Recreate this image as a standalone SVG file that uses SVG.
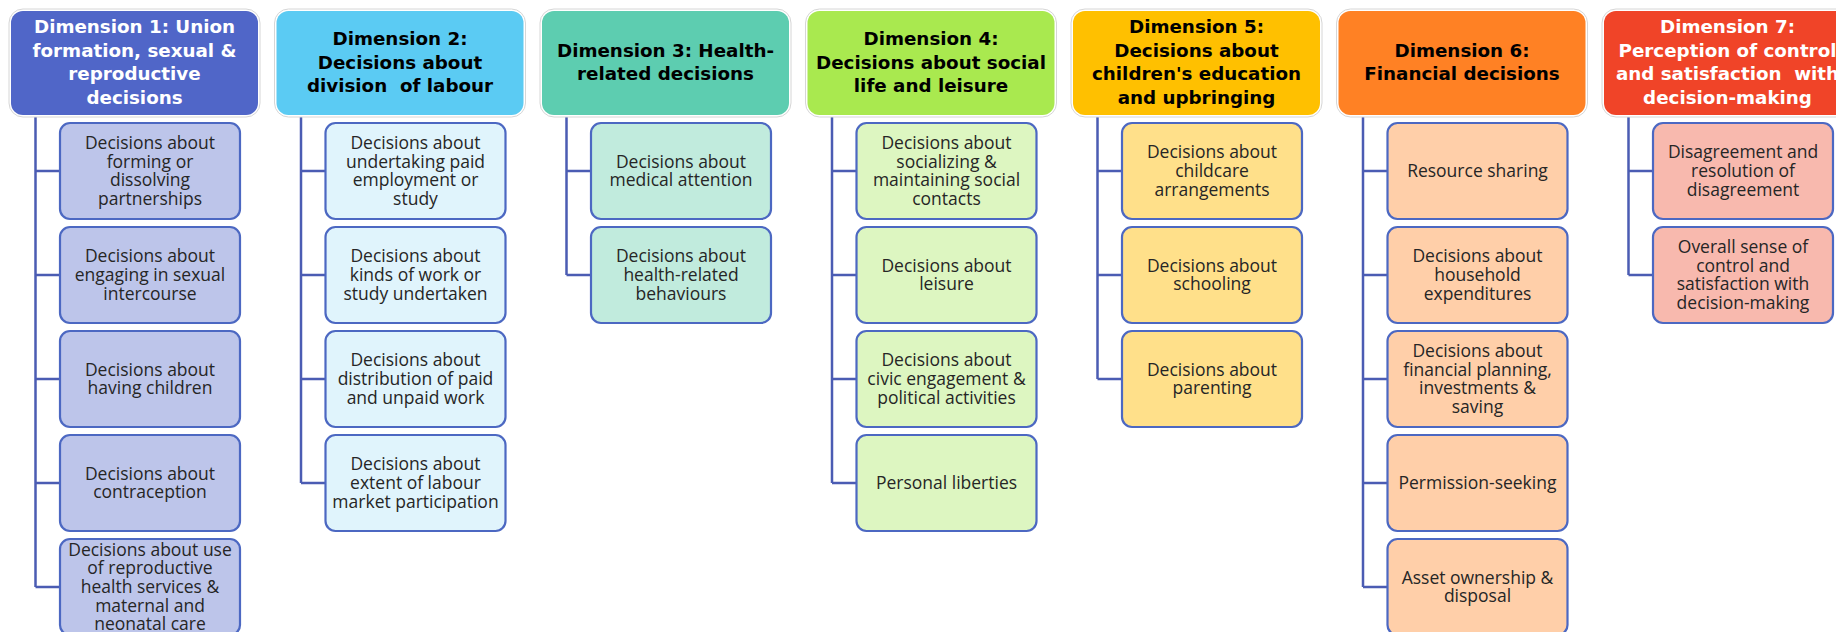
<svg xmlns="http://www.w3.org/2000/svg" width="1836" height="632" viewBox="0 0 1836 632">
<style>
.halo{fill:#ffffff;stroke:#d6d6d6;stroke-width:1}
.hd{stroke:none}
.ht{font-family:"DejaVu Sans",Verdana,sans-serif;font-weight:bold;font-size:18.3px;text-anchor:middle;white-space:pre}
.bx{stroke:#4C68C2;stroke-width:2.2}
.bt{font-family:"Open Sans","Noto Sans",sans-serif;font-size:17.5px;fill:#262626;text-anchor:middle}
.cn{fill:none;stroke:#4B5CB3;stroke-width:2.5}
.c1{fill:#BDC5EA}.c2{fill:#E0F4FC}.c3{fill:#C1EBDD}.c4{fill:#DDF6C1}.c5{fill:#FFE08A}.c6{fill:#FFCFA9}.c7{fill:#F8B9AE}
</style>
<rect width="1836" height="632" fill="#ffffff"/>

<g id="connectors">
<path class="cn" d="M35.5 115V587M35.5 171H60M35.5 275H60M35.5 379H60M35.5 483H60M35.5 587H60"/>
<path class="cn" d="M301 115V483M301 171H325.5M301 275H325.5M301 379H325.5M301 483H325.5"/>
<path class="cn" d="M566.5 115V275M566.5 171H591M566.5 275H591"/>
<path class="cn" d="M832 115V483M832 171H856.5M832 275H856.5M832 379H856.5M832 483H856.5"/>
<path class="cn" d="M1097.5 115V379M1097.5 171H1122M1097.5 275H1122M1097.5 379H1122"/>
<path class="cn" d="M1363 115V587M1363 171H1387.5M1363 275H1387.5M1363 379H1387.5M1363 483H1387.5M1363 587H1387.5"/>
<path class="cn" d="M1628.5 115V275M1628.5 171H1653M1628.5 275H1653"/>
</g>

<!-- Dimension 1 -->
<g id="dim1">
<rect class="halo" x="9" y="9" width="251" height="108" rx="14"/>
<rect class="hd" x="11" y="11" width="247" height="104" rx="12" fill="#5066C8"/>
<text class="ht" fill="#ffffff" x="134.5" y="33.35">Dimension 1: Union<tspan x="134.5" dy="23.5">formation, sexual &amp;</tspan><tspan x="134.5" dy="23.5">reproductive</tspan><tspan x="134.5" dy="23.5">decisions</tspan></text>
</g>
<g id="d1n1"><rect class="bx c1" x="60" y="123" width="180" height="96" rx="10"/>
<text class="bt" x="150" y="148.95">Decisions about<tspan x="150" dy="18.7">forming or</tspan><tspan x="150" dy="18.7">dissolving</tspan><tspan x="150" dy="18.7">partnerships</tspan></text></g>
<g id="d1n2"><rect class="bx c1" x="60" y="227" width="180" height="96" rx="10"/>
<text class="bt" x="150" y="262.3">Decisions about<tspan x="150" dy="18.7">engaging in sexual</tspan><tspan x="150" dy="18.7">intercourse</tspan></text></g>
<g id="d1n3"><rect class="bx c1" x="60" y="331" width="180" height="96" rx="10"/>
<text class="bt" x="150" y="375.65">Decisions about<tspan x="150" dy="18.7">having children</tspan></text></g>
<g id="d1n4"><rect class="bx c1" x="60" y="435" width="180" height="96" rx="10"/>
<text class="bt" x="150" y="479.65">Decisions about<tspan x="150" dy="18.7">contraception</tspan></text></g>
<g id="d1n5"><rect class="bx c1" x="60" y="539" width="180" height="96" rx="10"/>
<text class="bt" x="150" y="555.6">Decisions about use<tspan x="150" dy="18.7">of reproductive</tspan><tspan x="150" dy="18.7">health services &amp;</tspan><tspan x="150" dy="18.7">maternal and</tspan><tspan x="150" dy="18.7">neonatal care</tspan></text></g>

<!-- Dimension 2 -->
<g id="dim2">
<rect class="halo" x="274.5" y="9" width="251" height="108" rx="14"/>
<rect class="hd" x="276.5" y="11" width="247" height="104" rx="12" fill="#5BCBF3"/>
<text class="ht" fill="#000000" x="400" y="45.1">Dimension 2:<tspan x="400" dy="23.5">Decisions about</tspan><tspan x="400" dy="23.5">division  of labour</tspan></text>
</g>
<g id="d2n1"><rect class="bx c2" x="325.5" y="123" width="180" height="96" rx="10"/>
<text class="bt" x="415.5" y="148.95">Decisions about<tspan x="415.5" dy="18.7">undertaking paid</tspan><tspan x="415.5" dy="18.7">employment or</tspan><tspan x="415.5" dy="18.7">study</tspan></text></g>
<g id="d2n2"><rect class="bx c2" x="325.5" y="227" width="180" height="96" rx="10"/>
<text class="bt" x="415.5" y="262.3">Decisions about<tspan x="415.5" dy="18.7">kinds of work or</tspan><tspan x="415.5" dy="18.7">study undertaken</tspan></text></g>
<g id="d2n3"><rect class="bx c2" x="325.5" y="331" width="180" height="96" rx="10"/>
<text class="bt" x="415.5" y="366.3">Decisions about<tspan x="415.5" dy="18.7">distribution of paid</tspan><tspan x="415.5" dy="18.7">and unpaid work</tspan></text></g>
<g id="d2n4"><rect class="bx c2" x="325.5" y="435" width="180" height="96" rx="10"/>
<text class="bt" x="415.5" y="470.3">Decisions about<tspan x="415.5" dy="18.7">extent of labour</tspan><tspan x="415.5" dy="18.7">market participation</tspan></text></g>

<!-- Dimension 3 -->
<g id="dim3">
<rect class="halo" x="540" y="9" width="251" height="108" rx="14"/>
<rect class="hd" x="542" y="11" width="247" height="104" rx="12" fill="#5DCDB0"/>
<text class="ht" fill="#000000" x="665.5" y="56.85">Dimension 3: Health-<tspan x="665.5" dy="23.5">related decisions</tspan></text>
</g>
<g id="d3n1"><rect class="bx c3" x="591" y="123" width="180" height="96" rx="10"/>
<text class="bt" x="681" y="167.65">Decisions about<tspan x="681" dy="18.7">medical attention</tspan></text></g>
<g id="d3n2"><rect class="bx c3" x="591" y="227" width="180" height="96" rx="10"/>
<text class="bt" x="681" y="262.3">Decisions about<tspan x="681" dy="18.7">health-related</tspan><tspan x="681" dy="18.7">behaviours</tspan></text></g>

<!-- Dimension 4 -->
<g id="dim4">
<rect class="halo" x="805.5" y="9" width="251" height="108" rx="14"/>
<rect class="hd" x="807.5" y="11" width="247" height="104" rx="12" fill="#A9E94F"/>
<text class="ht" fill="#000000" x="931" y="45.1">Dimension 4:<tspan x="931" dy="23.5">Decisions about social</tspan><tspan x="931" dy="23.5">life and leisure</tspan></text>
</g>
<g id="d4n1"><rect class="bx c4" x="856.5" y="123" width="180" height="96" rx="10"/>
<text class="bt" x="946.5" y="148.95">Decisions about<tspan x="946.5" dy="18.7">socializing &amp;</tspan><tspan x="946.5" dy="18.7">maintaining social</tspan><tspan x="946.5" dy="18.7">contacts</tspan></text></g>
<g id="d4n2"><rect class="bx c4" x="856.5" y="227" width="180" height="96" rx="10"/>
<text class="bt" x="946.5" y="271.65">Decisions about<tspan x="946.5" dy="18.7">leisure</tspan></text></g>
<g id="d4n3"><rect class="bx c4" x="856.5" y="331" width="180" height="96" rx="10"/>
<text class="bt" x="946.5" y="366.3">Decisions about<tspan x="946.5" dy="18.7">civic engagement &amp;</tspan><tspan x="946.5" dy="18.7">political activities</tspan></text></g>
<g id="d4n4"><rect class="bx c4" x="856.5" y="435" width="180" height="96" rx="10"/>
<text class="bt" x="946.5" y="489">Personal liberties</text></g>

<!-- Dimension 5 -->
<g id="dim5">
<rect class="halo" x="1071" y="9" width="251" height="108" rx="14"/>
<rect class="hd" x="1073" y="11" width="247" height="104" rx="12" fill="#FFC000"/>
<text class="ht" fill="#000000" x="1196.5" y="33.35">Dimension 5:<tspan x="1196.5" dy="23.5">Decisions about</tspan><tspan x="1196.5" dy="23.5">children's education</tspan><tspan x="1196.5" dy="23.5">and upbringing</tspan></text>
</g>
<g id="d5n1"><rect class="bx c5" x="1122" y="123" width="180" height="96" rx="10"/>
<text class="bt" x="1212" y="158.3">Decisions about<tspan x="1212" dy="18.7">childcare</tspan><tspan x="1212" dy="18.7">arrangements</tspan></text></g>
<g id="d5n2"><rect class="bx c5" x="1122" y="227" width="180" height="96" rx="10"/>
<text class="bt" x="1212" y="271.65">Decisions about<tspan x="1212" dy="18.7">schooling</tspan></text></g>
<g id="d5n3"><rect class="bx c5" x="1122" y="331" width="180" height="96" rx="10"/>
<text class="bt" x="1212" y="375.65">Decisions about<tspan x="1212" dy="18.7">parenting</tspan></text></g>

<!-- Dimension 6 -->
<g id="dim6">
<rect class="halo" x="1336.5" y="9" width="251" height="108" rx="14"/>
<rect class="hd" x="1338.5" y="11" width="247" height="104" rx="12" fill="#FF8124"/>
<text class="ht" fill="#000000" x="1462" y="56.85">Dimension 6:<tspan x="1462" dy="23.5">Financial decisions</tspan></text>
</g>
<g id="d6n1"><rect class="bx c6" x="1387.5" y="123" width="180" height="96" rx="10"/>
<text class="bt" x="1477.5" y="177">Resource sharing</text></g>
<g id="d6n2"><rect class="bx c6" x="1387.5" y="227" width="180" height="96" rx="10"/>
<text class="bt" x="1477.5" y="262.3">Decisions about<tspan x="1477.5" dy="18.7">household</tspan><tspan x="1477.5" dy="18.7">expenditures</tspan></text></g>
<g id="d6n3"><rect class="bx c6" x="1387.5" y="331" width="180" height="96" rx="10"/>
<text class="bt" x="1477.5" y="356.95">Decisions about<tspan x="1477.5" dy="18.7">financial planning,</tspan><tspan x="1477.5" dy="18.7">investments &amp;</tspan><tspan x="1477.5" dy="18.7">saving</tspan></text></g>
<g id="d6n4"><rect class="bx c6" x="1387.5" y="435" width="180" height="96" rx="10"/>
<text class="bt" x="1477.5" y="489">Permission-seeking</text></g>
<g id="d6n5"><rect class="bx c6" x="1387.5" y="539" width="180" height="96" rx="10"/>
<text class="bt" x="1477.5" y="583.65">Asset ownership &amp;<tspan x="1477.5" dy="18.7">disposal</tspan></text></g>

<!-- Dimension 7 -->
<g id="dim7">
<rect class="halo" x="1602" y="9" width="251" height="108" rx="14"/>
<rect class="hd" x="1604" y="11" width="247" height="104" rx="12" fill="#F04428"/>
<text class="ht" fill="#ffffff" x="1727.5" y="33.35">Dimension 7:<tspan x="1727.5" dy="23.5">Perception of control</tspan><tspan x="1727.5" dy="23.5">and satisfaction  with</tspan><tspan x="1727.5" dy="23.5">decision-making</tspan></text>
</g>
<g id="d7n1"><rect class="bx c7" x="1653" y="123" width="180" height="96" rx="10"/>
<text class="bt" x="1743" y="158.3">Disagreement and<tspan x="1743" dy="18.7">resolution of</tspan><tspan x="1743" dy="18.7">disagreement</tspan></text></g>
<g id="d7n2"><rect class="bx c7" x="1653" y="227" width="180" height="96" rx="10"/>
<text class="bt" x="1743" y="252.95">Overall sense of<tspan x="1743" dy="18.7">control and</tspan><tspan x="1743" dy="18.7">satisfaction with</tspan><tspan x="1743" dy="18.7">decision-making</tspan></text></g>
</svg>
